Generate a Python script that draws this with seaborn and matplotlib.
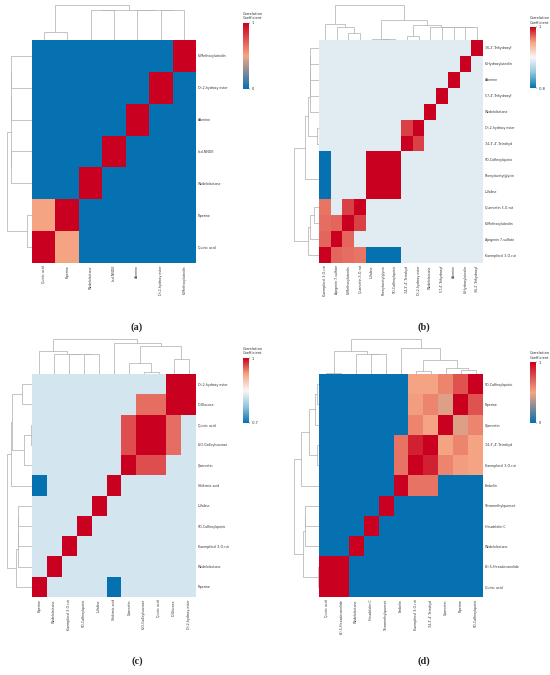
import numpy as np
import pandas as pd
import seaborn as sns
import matplotlib.pyplot as plt
from matplotlib.colors import LinearSegmentedColormap

# ---- data (column order left-to-right; rows are shown in reverse) ----
labels_a = ["Quinic acid", "Piperine", "Wedelolactone", "Lsd-NNDE", "Adenine",
            "Di-2-hydroxy ester", "6-Methoxyluteolin"]
pairs_a = [(0, 1, 0.5)]
merges_a = [(0, 1, 0.22), (2, 3, 0.85), (5, 6, 0.85), (4, 9, 0.85),
            (8, 10, 0.85), (7, 11, 1.0)]

labels_b = ["Kaempferol 3-O-rut", "Apigenin 7-sulfate", "6-Methoxyluteolin",
            "Quercetin 3-O-rut", "L-Valine", "Phenylacetylglycin",
            "5O-Caffeoylquinic", "7,4,3',4'-Tetrahyd", "Di-2-hydroxy ester",
            "Wedelolactone", "5,7,4'-Trihydroxyf", "Adenine",
            "6-Hydroxyluteolin", "3,6,2'-Trihydroxyf"]
pairs_b = [(0, 1, 0.72), (0, 2, 0.7), (0, 3, 0.68), (0, 4, -0.8), (0, 5, -0.8),
           (0, 6, -0.8), (1, 2, 0.72), (2, 3, 0.82), (4, 5, 1.0), (4, 6, 1.0),
           (5, 6, 1.0), (7, 8, 0.82)]
merges_b = [(2, 3, 0.2), (1, 14, 0.36), (0, 15, 0.45), (5, 6, 0.02),
            (4, 17, 0.02), (7, 8, 0.1), (12, 13, 0.36), (11, 20, 0.36),
            (10, 21, 0.36), (9, 22, 0.36), (19, 23, 0.43), (18, 24, 0.57),
            (16, 25, 1.0)]

labels_c = ["Piperine", "Wedelolactone", "Kaempferol 3-O-rut",
            "5O-Caffeoylquinic", "L-Valine", "Shikimic acid", "Quercetin",
            "6-O-Galloylsucrose", "Quinic acid", "D-Glucose",
            "Di-2-hydroxy ester"]
pairs_c = [(0, 5, -0.7), (6, 7, 0.8), (6, 8, 0.8), (7, 8, 1.0), (7, 9, 0.72),
           (8, 9, 0.72), (9, 10, 1.0)]
merges_c = [(3, 4, 0.58), (2, 11, 0.58), (1, 12, 0.58), (0, 13, 0.66),
            (7, 8, 0.06), (6, 15, 0.32), (9, 10, 0.42), (16, 17, 0.8),
            (5, 18, 0.87), (14, 19, 1.0)]

labels_d = ["Quinic acid", "(S)-5-Hexadecanolide", "Wedelolactone",
            "Heudelotin C", "Tetramethylquercet", "Embelin",
            "Kaempferol 3-O-rut", "7,4,3',4'-Tetrahyd", "Quercetin", "Piperine",
            "5O-Caffeoylquinic"]
pairs_d = [(0, 1, 1.0), (5, 6, 0.65), (5, 7, 0.65), (6, 7, 0.9), (6, 8, 0.6),
           (6, 9, 0.52), (6, 10, 0.5), (7, 8, 0.5), (7, 9, 0.6), (7, 10, 0.5),
           (8, 9, 0.45), (8, 10, 0.6), (9, 10, 0.75)]
merges_d = [(0, 1, 0.03), (3, 4, 0.56), (2, 12, 0.56), (11, 13, 0.66),
            (6, 7, 0.08), (9, 10, 0.1), (8, 16, 0.17), (15, 17, 0.39),
            (5, 18, 0.74), (14, 19, 1.0)]

cmap_pos = LinearSegmentedColormap.from_list("pos", ["#0571b0", "#f4a582", "#ca0020"])
cmap_div = LinearSegmentedColormap.from_list(
    "div", ["#0571b0", "#92c5de", "#f7f7f7", "#f4a582", "#ca0020"])

W, H = 550, 675


def box(x0, y0, x1, y1):
    return [x0 / W, 1 - y1 / H, (x1 - x0) / W, (y1 - y0) / H]


def build(labels, pairs):
    n = len(labels)
    m = np.eye(n)
    for i, j, v in pairs:
        m[i, j] = v
        m[j, i] = v
    return pd.DataFrame(m, index=labels, columns=labels)


def dendro(ax, n, merges, side):
    pos = {i: i + 0.5 for i in range(n)}
    hts = {i: 0.0 for i in range(n)}
    for k, (a, b, h) in enumerate(merges):
        xs = [pos[a], pos[a], pos[b], pos[b]]
        ys = [hts[a], h, h, hts[b]]
        if side == "top":
            ax.plot(xs, ys, color="#b4b4b4", lw=0.55)
        else:
            ax.plot(ys, xs, color="#b4b4b4", lw=0.55)
        pos[n + k] = (pos[a] + pos[b]) / 2
        hts[n + k] = h
    if side == "top":
        ax.set_xlim(0, n)
        ax.set_ylim(0, 1.02)
    else:
        ax.set_ylim(0, n)
        ax.set_xlim(1.02, 0)
    ax.axis("off")


def panel(fig, labels, pairs, merges, cmap, vmin, vmax, ox, oy, cb, tag):
    df = build(labels, pairs).iloc[::-1]
    n = len(labels)
    ax = fig.add_axes(box(ox + 32, oy + 40, ox + 196, oy + 263))
    cax = fig.add_axes(box(ox + 243, oy + cb[0], ox + 249, oy + cb[1]))
    sns.heatmap(df, ax=ax, cmap=cmap, vmin=vmin, vmax=vmax, cbar_ax=cax,
                xticklabels=True, yticklabels=True,
                cbar_kws={"ticks": [vmin, vmax]})
    ax.yaxis.tick_right()
    ax.tick_params(length=0, labelsize=2.3, pad=1.5, colors="#333333")
    ax.set_yticklabels(ax.get_yticklabels(), rotation=0)
    ax.set_xticklabels(ax.get_xticklabels(), rotation=90)
    ax.set_xlabel("")
    ax.set_ylabel("")
    cax.tick_params(length=1, width=0.3, labelsize=2.5, pad=0.8)
    cax.set_yticklabels([f"{vmin:g}", f"{vmax:g}"])
    for s in cax.spines.values():
        s.set_visible(False)
    cax.text(0, 1.04, "Correlation\nCoefficient", transform=cax.transAxes,
             ha="left", va="bottom", fontsize=2.6, color="#333333")
    top = fig.add_axes(box(ox + 32, oy + 4, ox + 196, oy + 40))
    dendro(top, n, merges, "top")
    left = fig.add_axes(box(ox + 7, oy + 40, ox + 32, oy + 263))
    dendro(left, n, merges, "left")
    fig.text((ox + 137) / W, 1 - (oy + 327) / H, tag, ha="center", va="center",
             fontsize=7.5, fontweight="bold", family="Liberation Serif")


sns.set_style("white")
fig = plt.figure(figsize=(5.5, 6.75), dpi=100)

panel(fig, labels_a, pairs_a, merges_a, cmap_pos, 0, 1, 0, 0, (23, 89), "(a)")
panel(fig, labels_b, pairs_b, merges_b, cmap_div, -0.8, 1, 287, 0, (27, 88), "(b)")
panel(fig, labels_c, pairs_c, merges_c, cmap_div, -0.7, 1, 0, 334, (24, 89), "(c)")
panel(fig, labels_d, pairs_d, merges_d, cmap_pos, 0, 1, 287, 334, (28, 89), "(d)")

fig.savefig("out.png", dpi=100)
